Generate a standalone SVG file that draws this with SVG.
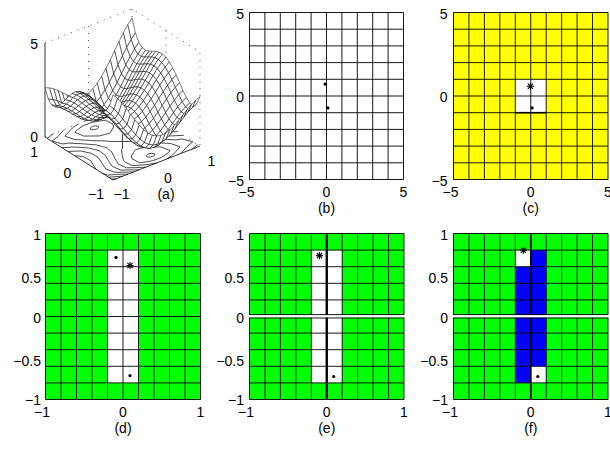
<svg xmlns="http://www.w3.org/2000/svg" width="610" height="449" viewBox="0 0 610 449">
<style>
.t{font-family:"Liberation Sans",Arial,sans-serif;font-size:14px;fill:#000}
.m{text-anchor:middle}
.e{text-anchor:end}
.q path{fill:#fff;stroke:#000;stroke-width:0.5;stroke-linejoin:round}
.c{fill:none;stroke:#000;stroke-width:0.7;stroke-linejoin:round}
.d{fill:none;stroke:#444;stroke-width:0.9;stroke-dasharray:1 6}
.ax{fill:none;stroke:#000;stroke-width:0.8}
.ast{fill:none;stroke:#000;stroke-width:1.1}
</style>
<defs>
<path id="g10" d="M0 0V10M1 0V10M2 0V10M3 0V10M4 0V10M5 0V10M6 0V10M7 0V10M8 0V10M9 0V10M10 0V10M0 0H10M0 1H10M0 2H10M0 3H10M0 4H10M0 5H10M0 6H10M0 7H10M0 8H10M0 9H10M0 10H10" fill="none" stroke="#000" stroke-width="0.9" vector-effect="non-scaling-stroke"/>
<path id="ast" d="M-3.6 0H3.6M0 -3.6V3.6M-2.6 -2.6L2.6 2.6M-2.6 2.6L2.6 -2.6" class="ast"/>
</defs>
<rect width="610" height="449" fill="#fff"/>

<g id="panel-a">
<g id="a-box">
<path class="d" d="M45 43L132 9L200 52V146M88.5 26V120M166 30.5V124.5M132 9V103M45 137L132 103L200 146"/>
<path class="ax" d="M45 43V137L113 180L200 146"/>
</g>
<g id="a-contours">
<path class="c" d="M98.3 126.3L95.7 125.8L92.4 126.5L90.3 127.9L90.6 129.3L93.2 129.7L96.5 129.1L98.6 127.6Z"/>
<path class="c" d="M146.7 156.7L149.3 157.2L152.6 156.5L154.7 155.1L154.4 153.7L151.8 153.3L148.5 153.9L146.4 155.4Z"/>
<path class="c" d="M83.34 125.64L92.17 122.32L103.25 120.43L105.57 120.29L113.06 124.32L113.66 127.01L110.29 132.36L109.58 133.33L104.64 134.57L99.59 135.91L85.79 136.09L83.31 135.94L74.86 132.29L76.68 130.33Z"/>
<path class="c" d="M161.66 157.36L152.83 160.68L141.75 162.57L139.43 162.71L131.94 158.68L131.34 155.99L134.71 150.64L135.42 149.67L140.36 148.43L145.41 147.09L159.21 146.91L161.69 147.06L170.14 150.71L168.32 152.67Z"/>
<path class="c" d="M78.15 124.05L72.6 127.75L67.36 133.34L64.94 136.17L74.26 139.48L77.36 139.66L89.67 140.41L93.13 140.73L106.22 140.91L108.29 141.42L122.5 141.5L122.49 134.55L123.52 133.24L122.73 127.49L121.61 123.13L120.63 121.36L112.87 117.43L99.72 118.19L88.5 120"/>
<path class="c" d="M166.85 158.95L172.4 155.25L177.64 149.66L180.06 146.83L170.74 143.52L167.64 143.34L155.33 142.59L151.87 142.27L138.78 142.09L136.71 141.58L122.5 141.5L122.51 148.45L121.48 149.76L122.27 155.51L123.39 159.87L124.37 161.64L132.13 165.57L145.28 164.81L156.5 163"/>
<path class="c" d="M64.23 129.49L63.08 130.63L58.05 136.35L52.15 141.16L62.78 143.97L68.73 143.1L81.23 143.71L84.09 143.92L96.04 144.88L102.52 146.67L106.84 147.62L112.16 152.5L112.24 152.81L114.96 158.36L118.28 164.02L126.38 167.81L135.77 167.69L145.8 167.18"/>
<path class="c" d="M180.77 153.51L181.92 152.37L186.95 146.65L192.85 141.84L182.22 139.03L176.27 139.9L163.77 139.29L160.91 139.08L148.96 138.12L142.48 136.33L138.16 135.38L132.84 130.5L132.76 130.19L130.04 124.64L126.72 118.98L118.62 115.19L109.23 115.31L99.2 115.82"/>
<path class="c" d="M53.27 133.77L47.18 138.38M191.73 149.23L197.82 144.62"/>
<path class="c" d="M61.93 147.71L72.45 147.15L74.98 147.06L88.21 147.94L91.84 148.82L99.1 150.65L105.29 155.18L107.08 158.45L108.52 160.88L112.28 166.37L120.64 170.06L125.3 169.97L138.93 169.87"/>
<path class="c" d="M183.07 135.29L172.55 135.85L170.02 135.94L156.79 135.06L153.16 134.18L145.9 132.35L139.71 127.82L137.92 124.55L136.48 122.12L132.72 116.63L124.36 112.94L119.7 113.03L106.07 113.13"/>
<path class="c" d="M133.53 171.98L128.56 172.04L114.9 172.3L105.75 168.92L102.17 163.36L98.5 157.84L91.88 153.47L81.44 151.14L80.38 151L67.78 151.4"/>
<path class="c" d="M111.47 111.02L116.44 110.96L130.1 110.7L139.25 114.08L142.83 119.64L146.5 125.16L153.12 129.53L163.56 131.86L164.62 132L177.22 131.6"/>
<path class="c" d="M128.05 174.12L118.03 174.28L107.77 175.09L102.39 173.29M96.14 169.34L94.17 166.49L90.85 160.83L83.52 156.73L74.51 155.66"/>
<path class="c" d="M116.95 108.88L126.97 108.72L137.23 107.91L142.61 109.71M148.86 113.66L150.83 116.51L154.15 122.17L161.48 126.27L170.49 127.34"/>
<path class="c" d="M122.66 176.23L121.16 176.26L108.58 177.2M122.34 106.77L123.84 106.74L136.42 105.8M116.13 178.78L111.57 179.1M128.87 104.22L133.43 103.9"/>
</g>
<g id="a-surface" class="q">
<path d="M131.1 39.6L135.4 32.8L132 17.8L127.7 24.8Z"/>
<path d="M126.7 47.5L131.1 39.6L127.7 24.8L123.3 32.8Z"/>
<path d="M122.4 56.1L126.7 47.5L123.3 32.8L119 41.6Z"/>
<path d="M118 65L122.4 56.1L119 41.6L114.6 50.7Z"/>
<path d="M113.7 73.9L118 65L114.6 50.7L110.3 59.8Z"/>
<path d="M109.3 82.4L113.7 73.9L110.3 59.8L105.9 68.4Z"/>
<path d="M105 90.1L109.3 82.4L105.9 68.4L101.6 76.3Z"/>
<path d="M100.6 96.8L105 90.1L101.6 76.3L97.2 83.2Z"/>
<path d="M96.3 102.2L100.6 96.8L97.2 83.2L92.9 88.8Z"/>
<path d="M91.9 106.2L96.3 102.2L92.9 88.8L88.5 93Z"/>
<path d="M87.6 108.8L91.9 106.2L88.5 93L84.2 95.8Z"/>
<path d="M83.2 110.1L87.6 108.8L84.2 95.8L79.8 97.2Z"/>
<path d="M78.9 110L83.2 110.1L79.8 97.2L75.5 97.3Z"/>
<path d="M74.5 108.9L78.9 110L75.5 97.3L71.1 96.4Z"/>
<path d="M70.2 107.1L74.5 108.9L71.1 96.4L66.8 94.8Z"/>
<path d="M65.8 104.9L70.2 107.1L66.8 94.8L62.4 92.7Z"/>
<path d="M61.5 102.6L65.8 104.9L62.4 92.7L58.1 90.6Z"/>
<path d="M57.1 100.6L61.5 102.6L58.1 90.6L53.7 88.8Z"/>
<path d="M52.8 99.4L57.1 100.6L53.7 88.8L49.4 87.8Z"/>
<path d="M48.4 99.2L52.8 99.4L49.4 87.8L45 87.8Z"/>
<path d="M134.5 48.9L138.8 42.3L135.4 32.8L131.1 39.6Z"/>
<path d="M130.1 56.6L134.5 48.9L131.1 39.6L126.7 47.5Z"/>
<path d="M125.8 65L130.1 56.6L126.7 47.5L122.4 56.1Z"/>
<path d="M121.4 73.8L125.8 65L122.4 56.1L118 65Z"/>
<path d="M117.1 82.5L121.4 73.8L118 65L113.7 73.9Z"/>
<path d="M112.7 90.8L117.1 82.5L113.7 73.9L109.3 82.4Z"/>
<path d="M108.4 98.3L112.7 90.8L109.3 82.4L105 90.1Z"/>
<path d="M104 104.8L108.4 98.3L105 90.1L100.6 96.8Z"/>
<path d="M99.7 110L104 104.8L100.6 96.8L96.3 102.2Z"/>
<path d="M95.3 113.9L99.7 110L96.3 102.2L91.9 106.2Z"/>
<path d="M91 116.3L95.3 113.9L91.9 106.2L87.6 108.8Z"/>
<path d="M86.6 117.4L91 116.3L87.6 108.8L83.2 110.1Z"/>
<path d="M82.3 117.1L86.6 117.4L83.2 110.1L78.9 110Z"/>
<path d="M77.9 115.9L82.3 117.1L78.9 110L74.5 108.9Z"/>
<path d="M73.6 113.9L77.9 115.9L74.5 108.9L70.2 107.1Z"/>
<path d="M69.2 111.4L73.6 113.9L70.2 107.1L65.8 104.9Z"/>
<path d="M64.9 109L69.2 111.4L65.8 104.9L61.5 102.6Z"/>
<path d="M60.5 106.8L64.9 109L61.5 102.6L57.1 100.6Z"/>
<path d="M56.2 105.4L60.5 106.8L57.1 100.6L52.8 99.4Z"/>
<path d="M51.8 105.1L56.2 105.4L52.8 99.4L48.4 99.2Z"/>
<path d="M137.9 54.1L142.2 47.6L138.8 42.3L134.5 48.9Z"/>
<path d="M133.5 61.6L137.9 54.1L134.5 48.9L130.1 56.6Z"/>
<path d="M129.2 69.8L133.5 61.6L130.1 56.6L125.8 65Z"/>
<path d="M124.8 78.4L129.2 69.8L125.8 65L121.4 73.8Z"/>
<path d="M120.5 86.9L124.8 78.4L121.4 73.8L117.1 82.5Z"/>
<path d="M116.1 95L120.5 86.9L117.1 82.5L112.7 90.8Z"/>
<path d="M111.8 102.4L116.1 95L112.7 90.8L108.4 98.3Z"/>
<path d="M107.4 108.7L111.8 102.4L108.4 98.3L104 104.8Z"/>
<path d="M103.1 113.8L107.4 108.7L104 104.8L99.7 110Z"/>
<path d="M98.7 117.4L103.1 113.8L99.7 110L95.3 113.9Z"/>
<path d="M94.4 119.7L98.7 117.4L95.3 113.9L91 116.3Z"/>
<path d="M90 120.5L94.4 119.7L91 116.3L86.6 117.4Z"/>
<path d="M85.7 120.2L90 120.5L86.6 117.4L82.3 117.1Z"/>
<path d="M81.3 118.7L85.7 120.2L82.3 117.1L77.9 115.9Z"/>
<path d="M77 116.5L81.3 118.7L77.9 115.9L73.6 113.9Z"/>
<path d="M72.6 113.9L77 116.5L73.6 113.9L69.2 111.4Z"/>
<path d="M68.3 111.3L72.6 113.9L69.2 111.4L64.9 109Z"/>
<path d="M63.9 109L68.3 111.3L64.9 109L60.5 106.8Z"/>
<path d="M59.6 107.4L63.9 109L60.5 106.8L56.2 105.4Z"/>
<path d="M55.2 106.8L59.6 107.4L56.2 105.4L51.8 105.1Z"/>
<path d="M141.3 56.5L145.6 50.2L142.2 47.6L137.9 54.1Z"/>
<path d="M136.9 63.8L141.3 56.5L137.9 54.1L133.5 61.6Z"/>
<path d="M132.6 71.8L136.9 63.8L133.5 61.6L129.2 69.8Z"/>
<path d="M128.2 80.2L132.6 71.8L129.2 69.8L124.8 78.4Z"/>
<path d="M123.9 88.6L128.2 80.2L124.8 78.4L120.5 86.9Z"/>
<path d="M119.5 96.5L123.9 88.6L120.5 86.9L116.1 95Z"/>
<path d="M115.2 103.7L119.5 96.5L116.1 95L111.8 102.4Z"/>
<path d="M110.8 109.8L115.2 103.7L111.8 102.4L107.4 108.7Z"/>
<path d="M106.5 114.7L110.8 109.8L107.4 108.7L103.1 113.8Z"/>
<path d="M102.1 118.2L106.5 114.7L103.1 113.8L98.7 117.4Z"/>
<path d="M97.8 120.3L102.1 118.2L98.7 117.4L94.4 119.7Z"/>
<path d="M93.4 120.9L97.8 120.3L94.4 119.7L90 120.5Z"/>
<path d="M89.1 120.4L93.4 120.9L90 120.5L85.7 120.2Z"/>
<path d="M84.7 118.7L89.1 120.4L85.7 120.2L81.3 118.7Z"/>
<path d="M80.4 116.4L84.7 118.7L81.3 118.7L77 116.5Z"/>
<path d="M76 113.6L80.4 116.4L77 116.5L72.6 113.9Z"/>
<path d="M71.7 110.7L76 113.6L72.6 113.9L68.3 111.3Z"/>
<path d="M67.3 108.3L71.7 110.7L68.3 111.3L63.9 109Z"/>
<path d="M63 106.5L67.3 108.3L63.9 109L59.6 107.4Z"/>
<path d="M58.6 105.8L63 106.5L59.6 107.4L55.2 106.8Z"/>
<path d="M144.7 57.1L149 51.1L145.6 50.2L141.3 56.5Z"/>
<path d="M140.3 64.3L144.7 57.1L141.3 56.5L136.9 63.8Z"/>
<path d="M136 72.1L140.3 64.3L136.9 63.8L132.6 71.8Z"/>
<path d="M131.6 80.4L136 72.1L132.6 71.8L128.2 80.2Z"/>
<path d="M127.3 88.5L131.6 80.4L128.2 80.2L123.9 88.6Z"/>
<path d="M122.9 96.3L127.3 88.5L123.9 88.6L119.5 96.5Z"/>
<path d="M118.6 103.3L122.9 96.3L119.5 96.5L115.2 103.7Z"/>
<path d="M114.2 109.2L118.6 103.3L115.2 103.7L110.8 109.8Z"/>
<path d="M109.9 113.9L114.2 109.2L110.8 109.8L106.5 114.7Z"/>
<path d="M105.5 117.3L109.9 113.9L106.5 114.7L102.1 118.2Z"/>
<path d="M101.2 119.1L105.5 117.3L102.1 118.2L97.8 120.3Z"/>
<path d="M96.8 119.6L101.2 119.1L97.8 120.3L93.4 120.9Z"/>
<path d="M92.5 118.9L96.8 119.6L93.4 120.9L89.1 120.4Z"/>
<path d="M88.1 117.1L92.5 118.9L89.1 120.4L84.7 118.7Z"/>
<path d="M83.8 114.5L88.1 117.1L84.7 118.7L80.4 116.4Z"/>
<path d="M79.4 111.6L83.8 114.5L80.4 116.4L76 113.6Z"/>
<path d="M75.1 108.5L79.4 111.6L76 113.6L71.7 110.7Z"/>
<path d="M70.7 105.9L75.1 108.5L71.7 110.7L67.3 108.3Z"/>
<path d="M66.4 103.9L70.7 105.9L67.3 108.3L63 106.5Z"/>
<path d="M62 103.1L66.4 103.9L63 106.5L58.6 105.8Z"/>
<path d="M148.1 57.1L152.4 51.2L149 51.1L144.7 57.1Z"/>
<path d="M143.7 64.1L148.1 57.1L144.7 57.1L140.3 64.3Z"/>
<path d="M139.4 71.7L143.7 64.1L140.3 64.3L136 72.1Z"/>
<path d="M135 79.8L139.4 71.7L136 72.1L131.6 80.4Z"/>
<path d="M130.7 87.8L135 79.8L131.6 80.4L127.3 88.5Z"/>
<path d="M126.3 95.3L130.7 87.8L127.3 88.5L122.9 96.3Z"/>
<path d="M122 102.1L126.3 95.3L122.9 96.3L118.6 103.3Z"/>
<path d="M117.6 107.9L122 102.1L118.6 103.3L114.2 109.2Z"/>
<path d="M113.3 112.4L117.6 107.9L114.2 109.2L109.9 113.9Z"/>
<path d="M108.9 115.6L113.3 112.4L109.9 113.9L105.5 117.3Z"/>
<path d="M104.6 117.3L108.9 115.6L105.5 117.3L101.2 119.1Z"/>
<path d="M100.2 117.6L104.6 117.3L101.2 119.1L96.8 119.6Z"/>
<path d="M95.9 116.7L100.2 117.6L96.8 119.6L92.5 118.9Z"/>
<path d="M91.5 114.7L95.9 116.7L92.5 118.9L88.1 117.1Z"/>
<path d="M87.2 112L91.5 114.7L88.1 117.1L83.8 114.5Z"/>
<path d="M82.8 108.8L87.2 112L83.8 114.5L79.4 111.6Z"/>
<path d="M78.5 105.6L82.8 108.8L79.4 111.6L75.1 108.5Z"/>
<path d="M74.1 102.8L78.5 105.6L75.1 108.5L70.7 105.9Z"/>
<path d="M69.8 100.7L74.1 102.8L70.7 105.9L66.4 103.9Z"/>
<path d="M65.4 99.6L69.8 100.7L66.4 103.9L62 103.1Z"/>
<path d="M151.5 57.1L155.8 51.4L152.4 51.2L148.1 57.1Z"/>
<path d="M147.1 63.9L151.5 57.1L148.1 57.1L143.7 64.1Z"/>
<path d="M142.8 71.4L147.1 63.9L143.7 64.1L139.4 71.7Z"/>
<path d="M138.4 79.2L142.8 71.4L139.4 71.7L135 79.8Z"/>
<path d="M134.1 87L138.4 79.2L135 79.8L130.7 87.8Z"/>
<path d="M129.7 94.4L134.1 87L130.7 87.8L126.3 95.3Z"/>
<path d="M125.4 101.1L129.7 94.4L126.3 95.3L122 102.1Z"/>
<path d="M121 106.7L125.4 101.1L122 102.1L117.6 107.9Z"/>
<path d="M116.7 111L121 106.7L117.6 107.9L113.3 112.4Z"/>
<path d="M112.3 114L116.7 111L113.3 112.4L108.9 115.6Z"/>
<path d="M108 115.5L112.3 114L108.9 115.6L104.6 117.3Z"/>
<path d="M103.6 115.6L108 115.5L104.6 117.3L100.2 117.6Z"/>
<path d="M99.3 114.5L103.6 115.6L100.2 117.6L95.9 116.7Z"/>
<path d="M94.9 112.3L99.3 114.5L95.9 116.7L91.5 114.7Z"/>
<path d="M90.6 109.4L94.9 112.3L91.5 114.7L87.2 112Z"/>
<path d="M86.2 106.1L90.6 109.4L87.2 112L82.8 108.8Z"/>
<path d="M81.9 102.7L86.2 106.1L82.8 108.8L78.5 105.6Z"/>
<path d="M77.5 99.7L81.9 102.7L78.5 105.6L74.1 102.8Z"/>
<path d="M73.2 97.4L77.5 99.7L74.1 102.8L69.8 100.7Z"/>
<path d="M68.8 96.2L73.2 97.4L69.8 100.7L65.4 99.6Z"/>
<path d="M154.9 57.7L159.2 52.2L155.8 51.4L151.5 57.1Z"/>
<path d="M150.5 64.3L154.9 57.7L151.5 57.1L147.1 63.9Z"/>
<path d="M146.2 71.6L150.5 64.3L147.1 63.9L142.8 71.4Z"/>
<path d="M141.8 79.3L146.2 71.6L142.8 71.4L138.4 79.2Z"/>
<path d="M137.5 86.9L141.8 79.3L138.4 79.2L134.1 87Z"/>
<path d="M133.1 94.1L137.5 86.9L134.1 87L129.7 94.4Z"/>
<path d="M128.8 100.6L133.1 94.1L129.7 94.4L125.4 101.1Z"/>
<path d="M124.4 106L128.8 100.6L125.4 101.1L121 106.7Z"/>
<path d="M120.1 110.2L124.4 106L121 106.7L116.7 111Z"/>
<path d="M115.7 113L120.1 110.2L116.7 111L112.3 114Z"/>
<path d="M111.4 114.3L115.7 113L112.3 114L108 115.5Z"/>
<path d="M107 114.3L111.4 114.3L108 115.5L103.6 115.6Z"/>
<path d="M102.7 113L107 114.3L103.6 115.6L99.3 114.5Z"/>
<path d="M98.3 110.6L102.7 113L99.3 114.5L94.9 112.3Z"/>
<path d="M94 107.5L98.3 110.6L94.9 112.3L90.6 109.4Z"/>
<path d="M89.6 104L94 107.5L90.6 109.4L86.2 106.1Z"/>
<path d="M85.3 100.5L89.6 104L86.2 106.1L81.9 102.7Z"/>
<path d="M80.9 97.3L85.3 100.5L81.9 102.7L77.5 99.7Z"/>
<path d="M76.6 94.8L80.9 97.3L77.5 99.7L73.2 97.4Z"/>
<path d="M72.2 93.4L76.6 94.8L73.2 97.4L68.8 96.2Z"/>
<path d="M158.3 59.4L162.6 54.1L159.2 52.2L154.9 57.7Z"/>
<path d="M153.9 65.9L158.3 59.4L154.9 57.7L150.5 64.3Z"/>
<path d="M149.6 73L153.9 65.9L150.5 64.3L146.2 71.6Z"/>
<path d="M145.2 80.5L149.6 73L146.2 71.6L141.8 79.3Z"/>
<path d="M140.9 87.9L145.2 80.5L141.8 79.3L137.5 86.9Z"/>
<path d="M136.5 95L140.9 87.9L137.5 86.9L133.1 94.1Z"/>
<path d="M132.2 101.3L136.5 95L133.1 94.1L128.8 100.6Z"/>
<path d="M127.8 106.5L132.2 101.3L128.8 100.6L124.4 106Z"/>
<path d="M123.5 110.5L127.8 106.5L124.4 106L120.1 110.2Z"/>
<path d="M119.1 113.1L123.5 110.5L120.1 110.2L115.7 113Z"/>
<path d="M114.8 114.2L119.1 113.1L115.7 113L111.4 114.3Z"/>
<path d="M110.4 114L114.8 114.2L111.4 114.3L107 114.3Z"/>
<path d="M106.1 112.5L110.4 114L107 114.3L102.7 113Z"/>
<path d="M101.7 110L106.1 112.5L102.7 113L98.3 110.6Z"/>
<path d="M97.4 106.7L101.7 110L98.3 110.6L94 107.5Z"/>
<path d="M93 103L97.4 106.7L94 107.5L89.6 104Z"/>
<path d="M88.7 99.3L93 103L89.6 104L85.3 100.5Z"/>
<path d="M84.3 95.9L88.7 99.3L85.3 100.5L80.9 97.3Z"/>
<path d="M80 93.3L84.3 95.9L80.9 97.3L76.6 94.8Z"/>
<path d="M75.6 91.7L80 93.3L76.6 94.8L72.2 93.4Z"/>
<path d="M161.7 62.5L166 57.3L162.6 54.1L158.3 59.4Z"/>
<path d="M157.3 68.7L161.7 62.5L158.3 59.4L153.9 65.9Z"/>
<path d="M153 75.7L157.3 68.7L153.9 65.9L149.6 73Z"/>
<path d="M148.6 83L153 75.7L149.6 73L145.2 80.5Z"/>
<path d="M144.3 90.3L148.6 83L145.2 80.5L140.9 87.9Z"/>
<path d="M139.9 97.1L144.3 90.3L140.9 87.9L136.5 95Z"/>
<path d="M135.6 103.2L139.9 97.1L136.5 95L132.2 101.3Z"/>
<path d="M131.2 108.3L135.6 103.2L132.2 101.3L127.8 106.5Z"/>
<path d="M126.9 112.1L131.2 108.3L127.8 106.5L123.5 110.5Z"/>
<path d="M122.5 114.5L126.9 112.1L123.5 110.5L119.1 113.1Z"/>
<path d="M118.2 115.5L122.5 114.5L119.1 113.1L114.8 114.2Z"/>
<path d="M113.8 115.1L118.2 115.5L114.8 114.2L110.4 114Z"/>
<path d="M109.5 113.4L113.8 115.1L110.4 114L106.1 112.5Z"/>
<path d="M105.1 110.7L109.5 113.4L106.1 112.5L101.7 110Z"/>
<path d="M100.8 107.3L105.1 110.7L101.7 110L97.4 106.7Z"/>
<path d="M96.4 103.4L100.8 107.3L97.4 106.7L93 103Z"/>
<path d="M92.1 99.5L96.4 103.4L93 103L88.7 99.3Z"/>
<path d="M87.7 95.9L92.1 99.5L88.7 99.3L84.3 95.9Z"/>
<path d="M83.4 93.1L87.7 95.9L84.3 95.9L80 93.3Z"/>
<path d="M79 91.3L83.4 93.1L80 93.3L75.6 91.7Z"/>
<path d="M165.1 67L169.4 62L166 57.3L161.7 62.5Z"/>
<path d="M160.7 73L165.1 67L161.7 62.5L157.3 68.7Z"/>
<path d="M156.4 79.8L160.7 73L157.3 68.7L153 75.7Z"/>
<path d="M152 86.9L156.4 79.8L153 75.7L148.6 83Z"/>
<path d="M147.7 94L152 86.9L148.6 83L144.3 90.3Z"/>
<path d="M143.3 100.7L147.7 94L144.3 90.3L139.9 97.1Z"/>
<path d="M139 106.6L143.3 100.7L139.9 97.1L135.6 103.2Z"/>
<path d="M134.6 111.5L139 106.6L135.6 103.2L131.2 108.3Z"/>
<path d="M130.3 115.1L134.6 111.5L131.2 108.3L126.9 112.1Z"/>
<path d="M125.9 117.4L130.3 115.1L126.9 112.1L122.5 114.5Z"/>
<path d="M121.6 118.2L125.9 117.4L122.5 114.5L118.2 115.5Z"/>
<path d="M117.2 117.6L121.6 118.2L118.2 115.5L113.8 115.1Z"/>
<path d="M112.9 115.8L117.2 117.6L113.8 115.1L109.5 113.4Z"/>
<path d="M108.5 112.9L112.9 115.8L109.5 113.4L105.1 110.7Z"/>
<path d="M104.2 109.2L108.5 112.9L105.1 110.7L100.8 107.3Z"/>
<path d="M99.8 105.2L104.2 109.2L100.8 107.3L96.4 103.4Z"/>
<path d="M95.5 101.1L99.8 105.2L96.4 103.4L92.1 99.5Z"/>
<path d="M91.1 97.4L95.5 101.1L92.1 99.5L87.7 95.9Z"/>
<path d="M86.8 94.3L91.1 97.4L87.7 95.9L83.4 93.1Z"/>
<path d="M82.4 92.4L86.8 94.3L83.4 93.1L79 91.3Z"/>
<path d="M168.5 72.8L172.8 68L169.4 62L165.1 67Z"/>
<path d="M164.1 78.7L168.5 72.8L165.1 67L160.7 73Z"/>
<path d="M159.8 85.3L164.1 78.7L160.7 73L156.4 79.8Z"/>
<path d="M155.4 92.2L159.8 85.3L156.4 79.8L152 86.9Z"/>
<path d="M151.1 99.1L155.4 92.2L152 86.9L147.7 94Z"/>
<path d="M146.7 105.6L151.1 99.1L147.7 94L143.3 100.7Z"/>
<path d="M142.4 111.4L146.7 105.6L143.3 100.7L139 106.6Z"/>
<path d="M138 116.1L142.4 111.4L139 106.6L134.6 111.5Z"/>
<path d="M133.7 119.5L138 116.1L134.6 111.5L130.3 115.1Z"/>
<path d="M129.3 121.6L133.7 119.5L130.3 115.1L125.9 117.4Z"/>
<path d="M125 122.2L129.3 121.6L125.9 117.4L121.6 118.2Z"/>
<path d="M120.6 121.4L125 122.2L121.6 118.2L117.2 117.6Z"/>
<path d="M116.3 119.4L120.6 121.4L117.2 117.6L112.9 115.8Z"/>
<path d="M111.9 116.3L116.3 119.4L112.9 115.8L108.5 112.9Z"/>
<path d="M107.6 112.5L111.9 116.3L108.5 112.9L104.2 109.2Z"/>
<path d="M103.2 108.3L107.6 112.5L104.2 109.2L99.8 105.2Z"/>
<path d="M98.9 104L103.2 108.3L99.8 105.2L95.5 101.1Z"/>
<path d="M94.5 100.1L98.9 104L95.5 101.1L91.1 97.4Z"/>
<path d="M90.2 96.9L94.5 100.1L91.1 97.4L86.8 94.3Z"/>
<path d="M85.8 94.8L90.2 96.9L86.8 94.3L82.4 92.4Z"/>
<path d="M171.9 79.7L176.2 75.1L172.8 68L168.5 72.8Z"/>
<path d="M167.5 85.4L171.9 79.7L168.5 72.8L164.1 78.7Z"/>
<path d="M163.2 91.8L167.5 85.4L164.1 78.7L159.8 85.3Z"/>
<path d="M158.8 98.6L163.2 91.8L159.8 85.3L155.4 92.2Z"/>
<path d="M154.5 105.3L158.8 98.6L155.4 92.2L151.1 99.1Z"/>
<path d="M150.1 111.6L154.5 105.3L151.1 99.1L146.7 105.6Z"/>
<path d="M145.8 117.2L150.1 111.6L146.7 105.6L142.4 111.4Z"/>
<path d="M141.4 121.7L145.8 117.2L142.4 111.4L138 116.1Z"/>
<path d="M137.1 125L141.4 121.7L138 116.1L133.7 119.5Z"/>
<path d="M132.7 126.9L137.1 125L133.7 119.5L129.3 121.6Z"/>
<path d="M128.4 127.3L132.7 126.9L129.3 121.6L125 122.2Z"/>
<path d="M124 126.4L128.4 127.3L125 122.2L120.6 121.4Z"/>
<path d="M119.7 124.2L124 126.4L120.6 121.4L116.3 119.4Z"/>
<path d="M115.3 120.9L119.7 124.2L116.3 119.4L111.9 116.3Z"/>
<path d="M111 116.9L115.3 120.9L111.9 116.3L107.6 112.5Z"/>
<path d="M106.6 112.5L111 116.9L107.6 112.5L103.2 108.3Z"/>
<path d="M102.3 108.1L106.6 112.5L103.2 108.3L98.9 104Z"/>
<path d="M97.9 104L102.3 108.1L98.9 104L94.5 100.1Z"/>
<path d="M93.6 100.6L97.9 104L94.5 100.1L90.2 96.9Z"/>
<path d="M89.2 98.3L93.6 100.6L90.2 96.9L85.8 94.8Z"/>
<path d="M175.3 87.3L179.6 82.8L176.2 75.1L171.9 79.7Z"/>
<path d="M170.9 92.8L175.3 87.3L171.9 79.7L167.5 85.4Z"/>
<path d="M166.6 99L170.9 92.8L167.5 85.4L163.2 91.8Z"/>
<path d="M162.2 105.6L166.6 99L163.2 91.8L158.8 98.6Z"/>
<path d="M157.9 112.2L162.2 105.6L158.8 98.6L154.5 105.3Z"/>
<path d="M153.5 118.3L157.9 112.2L154.5 105.3L150.1 111.6Z"/>
<path d="M149.2 123.7L153.5 118.3L150.1 111.6L145.8 117.2Z"/>
<path d="M144.8 128L149.2 123.7L145.8 117.2L141.4 121.7Z"/>
<path d="M140.5 131.1L144.8 128L141.4 121.7L137.1 125Z"/>
<path d="M136.1 132.8L140.5 131.1L137.1 125L132.7 126.9Z"/>
<path d="M131.8 133L136.1 132.8L132.7 126.9L128.4 127.3Z"/>
<path d="M127.4 131.9L131.8 133L128.4 127.3L124 126.4Z"/>
<path d="M123.1 129.5L127.4 131.9L124 126.4L119.7 124.2Z"/>
<path d="M118.7 126.1L123.1 129.5L119.7 124.2L115.3 120.9Z"/>
<path d="M114.4 122L118.7 126.1L115.3 120.9L111 116.9Z"/>
<path d="M110 117.4L114.4 122L111 116.9L106.6 112.5Z"/>
<path d="M105.7 112.7L110 117.4L106.6 112.5L102.3 108.1Z"/>
<path d="M101.3 108.5L105.7 112.7L102.3 108.1L97.9 104Z"/>
<path d="M97 104.9L101.3 108.5L97.9 104L93.6 100.6Z"/>
<path d="M92.6 102.4L97 104.9L93.6 100.6L89.2 98.3Z"/>
<path d="M178.7 94.8L183 90.6L179.6 82.8L175.3 87.3Z"/>
<path d="M174.3 100.2L178.7 94.8L175.3 87.3L170.9 92.8Z"/>
<path d="M170 106.2L174.3 100.2L170.9 92.8L166.6 99Z"/>
<path d="M165.6 112.7L170 106.2L166.6 99L162.2 105.6Z"/>
<path d="M161.3 119L165.6 112.7L162.2 105.6L157.9 112.2Z"/>
<path d="M156.9 125L161.3 119L157.9 112.2L153.5 118.3Z"/>
<path d="M152.6 130.2L156.9 125L153.5 118.3L149.2 123.7Z"/>
<path d="M148.2 134.3L152.6 130.2L149.2 123.7L144.8 128Z"/>
<path d="M143.9 137.2L148.2 134.3L144.8 128L140.5 131.1Z"/>
<path d="M139.5 138.8L143.9 137.2L140.5 131.1L136.1 132.8Z"/>
<path d="M135.2 138.8L139.5 138.8L136.1 132.8L131.8 133Z"/>
<path d="M130.8 137.5L135.2 138.8L131.8 133L127.4 131.9Z"/>
<path d="M126.5 135L130.8 137.5L127.4 131.9L123.1 129.5Z"/>
<path d="M122.1 131.4L126.5 135L123.1 129.5L118.7 126.1Z"/>
<path d="M117.8 127L122.1 131.4L118.7 126.1L114.4 122Z"/>
<path d="M113.4 122.3L117.8 127L114.4 122L110 117.4Z"/>
<path d="M109.1 117.4L113.4 122.3L110 117.4L105.7 112.7Z"/>
<path d="M104.7 113L109.1 117.4L105.7 112.7L101.3 108.5Z"/>
<path d="M100.4 109.2L104.7 113L101.3 108.5L97 104.9Z"/>
<path d="M96 106.6L100.4 109.2L97 104.9L92.6 102.4Z"/>
<path d="M182.1 101.7L186.4 97.6L183 90.6L178.7 94.8Z"/>
<path d="M177.7 106.9L182.1 101.7L178.7 94.8L174.3 100.2Z"/>
<path d="M173.4 112.7L177.7 106.9L174.3 100.2L170 106.2Z"/>
<path d="M169 119L173.4 112.7L170 106.2L165.6 112.7Z"/>
<path d="M164.7 125.2L169 119L165.6 112.7L161.3 119Z"/>
<path d="M160.3 130.9L164.7 125.2L161.3 119L156.9 125Z"/>
<path d="M156 136L160.3 130.9L156.9 125L152.6 130.2Z"/>
<path d="M151.6 139.9L156 136L152.6 130.2L148.2 134.3Z"/>
<path d="M147.3 142.7L151.6 139.9L148.2 134.3L143.9 137.2Z"/>
<path d="M142.9 144L147.3 142.7L143.9 137.2L139.5 138.8Z"/>
<path d="M138.6 143.9L142.9 144L139.5 138.8L135.2 138.8Z"/>
<path d="M134.2 142.4L138.6 143.9L135.2 138.8L130.8 137.5Z"/>
<path d="M129.9 139.7L134.2 142.4L130.8 137.5L126.5 135Z"/>
<path d="M125.5 135.9L129.9 139.7L126.5 135L122.1 131.4Z"/>
<path d="M121.2 131.4L125.5 135.9L122.1 131.4L117.8 127Z"/>
<path d="M116.8 126.4L121.2 131.4L117.8 127L113.4 122.3Z"/>
<path d="M112.5 121.4L116.8 126.4L113.4 122.3L109.1 117.4Z"/>
<path d="M108.1 116.8L112.5 121.4L109.1 117.4L104.7 113Z"/>
<path d="M103.8 112.9L108.1 116.8L104.7 113L100.4 109.2Z"/>
<path d="M99.4 110L103.8 112.9L100.4 109.2L96 106.6Z"/>
<path d="M185.5 106.9L189.8 102.9L186.4 97.6L182.1 101.7Z"/>
<path d="M181.1 111.9L185.5 106.9L182.1 101.7L177.7 106.9Z"/>
<path d="M176.8 117.6L181.1 111.9L177.7 106.9L173.4 112.7Z"/>
<path d="M172.4 123.6L176.8 117.6L173.4 112.7L169 119Z"/>
<path d="M168.1 129.6L172.4 123.6L169 119L164.7 125.2Z"/>
<path d="M163.7 135.2L168.1 129.6L164.7 125.2L160.3 130.9Z"/>
<path d="M159.4 140.1L163.7 135.2L160.3 130.9L156 136Z"/>
<path d="M155 143.8L159.4 140.1L156 136L151.6 139.9Z"/>
<path d="M150.7 146.4L155 143.8L151.6 139.9L147.3 142.7Z"/>
<path d="M146.3 147.5L150.7 146.4L147.3 142.7L142.9 144Z"/>
<path d="M142 147.3L146.3 147.5L142.9 144L138.6 143.9Z"/>
<path d="M137.6 145.6L142 147.3L138.6 143.9L134.2 142.4Z"/>
<path d="M133.3 142.7L137.6 145.6L134.2 142.4L129.9 139.7Z"/>
<path d="M128.9 138.7L133.3 142.7L129.9 139.7L125.5 135.9Z"/>
<path d="M124.6 134L128.9 138.7L125.5 135.9L121.2 131.4Z"/>
<path d="M120.2 128.9L124.6 134L121.2 131.4L116.8 126.4Z"/>
<path d="M115.9 123.7L120.2 128.9L116.8 126.4L112.5 121.4Z"/>
<path d="M111.5 118.9L115.9 123.7L112.5 121.4L108.1 116.8Z"/>
<path d="M107.2 114.8L111.5 118.9L108.1 116.8L103.8 112.9Z"/>
<path d="M102.8 111.7L107.2 114.8L103.8 112.9L99.4 110Z"/>
<path d="M188.9 109.2L193.2 105.5L189.8 102.9L185.5 106.9Z"/>
<path d="M184.5 114L188.9 109.2L185.5 106.9L181.1 111.9Z"/>
<path d="M180.2 119.6L184.5 114L181.1 111.9L176.8 117.6Z"/>
<path d="M175.8 125.4L180.2 119.6L176.8 117.6L172.4 123.6Z"/>
<path d="M171.5 131.3L175.8 125.4L172.4 123.6L168.1 129.6Z"/>
<path d="M167.1 136.7L171.5 131.3L168.1 129.6L163.7 135.2Z"/>
<path d="M162.8 141.3L167.1 136.7L163.7 135.2L159.4 140.1Z"/>
<path d="M158.4 145L162.8 141.3L159.4 140.1L155 143.8Z"/>
<path d="M154.1 147.3L158.4 145L155 143.8L150.7 146.4Z"/>
<path d="M149.7 148.3L154.1 147.3L150.7 146.4L146.3 147.5Z"/>
<path d="M145.4 147.8L149.7 148.3L146.3 147.5L142 147.3Z"/>
<path d="M141 146L145.4 147.8L142 147.3L137.6 145.6Z"/>
<path d="M136.7 142.9L141 146L137.6 145.6L133.3 142.7Z"/>
<path d="M132.3 138.8L136.7 142.9L133.3 142.7L128.9 138.7Z"/>
<path d="M128 133.9L132.3 138.8L128.9 138.7L124.6 134Z"/>
<path d="M123.6 128.6L128 133.9L124.6 134L120.2 128.9Z"/>
<path d="M119.3 123.2L123.6 128.6L120.2 128.9L115.9 123.7Z"/>
<path d="M114.9 118.2L119.3 123.2L115.9 123.7L111.5 118.9Z"/>
<path d="M110.6 113.9L114.9 118.2L111.5 118.9L107.2 114.8Z"/>
<path d="M106.2 110.7L110.6 113.9L107.2 114.8L102.8 111.7Z"/>
<path d="M192.3 107.5L196.6 103.9L193.2 105.5L188.9 109.2Z"/>
<path d="M187.9 112.1L192.3 107.5L188.9 109.2L184.5 114Z"/>
<path d="M183.6 117.5L187.9 112.1L184.5 114L180.2 119.6Z"/>
<path d="M179.2 123.2L183.6 117.5L180.2 119.6L175.8 125.4Z"/>
<path d="M174.9 128.8L179.2 123.2L175.8 125.4L171.5 131.3Z"/>
<path d="M170.5 134L174.9 128.8L171.5 131.3L167.1 136.7Z"/>
<path d="M166.2 138.5L170.5 134L167.1 136.7L162.8 141.3Z"/>
<path d="M161.8 142L166.2 138.5L162.8 141.3L158.4 145Z"/>
<path d="M157.5 144.1L161.8 142L158.4 145L154.1 147.3Z"/>
<path d="M153.1 144.9L157.5 144.1L154.1 147.3L149.7 148.3Z"/>
<path d="M148.8 144.3L153.1 144.9L149.7 148.3L145.4 147.8Z"/>
<path d="M144.4 142.3L148.8 144.3L145.4 147.8L141 146Z"/>
<path d="M140.1 139L144.4 142.3L141 146L136.7 142.9Z"/>
<path d="M135.7 134.7L140.1 139L136.7 142.9L132.3 138.8Z"/>
<path d="M131.4 129.6L135.7 134.7L132.3 138.8L128 133.9Z"/>
<path d="M127 124.1L131.4 129.6L128 133.9L123.6 128.6Z"/>
<path d="M122.7 118.6L127 124.1L123.6 128.6L119.3 123.2Z"/>
<path d="M118.3 113.4L122.7 118.6L119.3 123.2L114.9 118.2Z"/>
<path d="M114 108.9L118.3 113.4L114.9 118.2L110.6 113.9Z"/>
<path d="M109.6 105.5L114 108.9L110.6 113.9L106.2 110.7Z"/>
<path d="M195.7 100.2L200 96.8L196.6 103.9L192.3 107.5Z"/>
<path d="M191.3 104.6L195.7 100.2L192.3 107.5L187.9 112.1Z"/>
<path d="M187 109.8L191.3 104.6L187.9 112.1L183.6 117.5Z"/>
<path d="M182.6 115.3L187 109.8L183.6 117.5L179.2 123.2Z"/>
<path d="M178.3 120.8L182.6 115.3L179.2 123.2L174.9 128.8Z"/>
<path d="M173.9 125.8L178.3 120.8L174.9 128.8L170.5 134Z"/>
<path d="M169.6 130.1L173.9 125.8L170.5 134L166.2 138.5Z"/>
<path d="M165.2 133.4L169.6 130.1L166.2 138.5L161.8 142Z"/>
<path d="M160.9 135.4L165.2 133.4L161.8 142L157.5 144.1Z"/>
<path d="M156.5 136L160.9 135.4L157.5 144.1L153.1 144.9Z"/>
<path d="M152.2 135.2L156.5 136L153.1 144.9L148.8 144.3Z"/>
<path d="M147.8 133L152.2 135.2L148.8 144.3L144.4 142.3Z"/>
<path d="M143.5 129.5L147.8 133L144.4 142.3L140.1 139Z"/>
<path d="M139.1 125L143.5 129.5L140.1 139L135.7 134.7Z"/>
<path d="M134.8 119.8L139.1 125L135.7 134.7L131.4 129.6Z"/>
<path d="M130.4 114.1L134.8 119.8L131.4 129.6L127 124.1Z"/>
<path d="M126.1 108.4L130.4 114.1L127 124.1L122.7 118.6Z"/>
<path d="M121.7 103L126.1 108.4L122.7 118.6L118.3 113.4Z"/>
<path d="M117.4 98.4L121.7 103L118.3 113.4L114 108.9Z"/>
<path d="M113 94.8L117.4 98.4L114 108.9L109.6 105.5Z"/>
</g>
<g id="a-labels" class="t">
<text class="e" x="38" y="48.5">5</text>
<text class="e" x="38" y="142">0</text>
<text class="e" x="38" y="157">1</text>
<text class="m" x="67.5" y="178">0</text>
<text class="m" x="96" y="198.5">−1</text>
<text class="m" x="121.5" y="198.5">−1</text>
<text class="m" x="168" y="183">0</text>
<text class="m" x="166" y="199">(a)</text>
<text class="m" x="211.5" y="166">1</text>
</g>
</g>

<g id="panel-b">
<use href="#g10" transform="translate(249.5 12.5) scale(15.4 16.7)"/>
<circle cx="325.1" cy="84.1" r="1.6"/>
<circle cx="327.9" cy="107.9" r="1.6"/>
<g class="t">
<text class="e" x="244" y="19">5</text>
<text class="e" x="244" y="101.5">0</text>
<text class="e" x="244" y="185.5">−5</text>
<text class="m" x="246.5" y="197">−5</text>
<text class="m" x="326.5" y="197">0</text>
<text class="m" x="403.5" y="197">5</text>
<text class="m" x="326.5" y="213">(b)</text>
</g>
</g>

<g id="panel-c">
<rect x="453.5" y="12.5" width="154.5" height="167" fill="#ff0"/>
<rect x="515.3" y="79.3" width="30.9" height="33.4" fill="#fff"/>
<use href="#g10" transform="translate(453.5 12.5) scale(15.45 16.7)"/>
<path d="M515.3 112.7H546.2" stroke="#000" stroke-width="1.6"/>
<use href="#ast" x="530.4" y="86.2"/>
<circle cx="532.1" cy="107.9" r="1.6"/>
<g class="t">
<text class="e" x="447.5" y="19">5</text>
<text class="e" x="447.5" y="101.5">0</text>
<text class="e" x="447.5" y="185.5">−5</text>
<text class="m" x="450.5" y="197">−5</text>
<text class="m" x="530.75" y="197">0</text>
<text class="m" x="608" y="197">5</text>
<text class="m" x="530.75" y="213">(c)</text>
</g>
</g>

<g id="panel-d">
<rect x="45.5" y="233.5" width="155" height="166" fill="#0f0"/>
<rect x="107.5" y="250.1" width="31" height="132.8" fill="#fff"/>
<use href="#g10" transform="translate(45.5 233.5) scale(15.5 16.6)"/>
<circle cx="116" cy="257.4" r="1.6"/>
<use href="#ast" x="130" y="265.5"/>
<circle cx="130" cy="375.6" r="1.6"/>
<g class="t">
<text class="e" x="41" y="240">1</text>
<text class="e" x="41" y="283">0.5</text>
<text class="e" x="41" y="322.5">0</text>
<text class="e" x="41" y="365.5">−0.5</text>
<text class="e" x="41" y="404.5">−1</text>
<text class="m" x="42" y="417">−1</text>
<text class="m" x="123" y="417">0</text>
<text class="m" x="200.5" y="417">1</text>
<text class="m" x="123" y="432.5">(d)</text>
</g>
</g>

<g id="panel-e">
<rect x="249.5" y="233.5" width="154.5" height="166" fill="#0f0"/>
<rect x="311.3" y="250.1" width="30.9" height="132.8" fill="#fff"/>
<use href="#g10" transform="translate(249.5 233.5) scale(15.45 16.6)"/>
<path d="M326.75 233.5V399.5" stroke="#000" stroke-width="2.4"/>
<rect x="248" y="315" width="157.5" height="2.6" fill="#fff"/>
<path d="M249.5 314.6H404M249.5 318H404" stroke="#000" stroke-width="0.9"/>
<use href="#ast" x="319.5" y="255.6"/>
<circle cx="333.7" cy="376.5" r="1.6"/>
<g class="t">
<text class="e" x="244" y="240">1</text>
<text class="e" x="244" y="283">0.5</text>
<text class="e" x="244" y="322.5">0</text>
<text class="e" x="244" y="365.5">−0.5</text>
<text class="e" x="244" y="404.5">−1</text>
<text class="m" x="246" y="417">−1</text>
<text class="m" x="326.75" y="417">0</text>
<text class="m" x="404" y="417">1</text>
<text class="m" x="326.75" y="432.5">(e)</text>
</g>
</g>

<g id="panel-f">
<rect x="453.5" y="233.5" width="154.5" height="166" fill="#0f0"/>
<rect x="515.3" y="250.1" width="30.9" height="132.8" fill="#00f"/>
<rect x="515.3" y="250.1" width="15.45" height="16.6" fill="#fff"/>
<rect x="530.75" y="366.3" width="15.45" height="16.6" fill="#fff"/>
<use href="#g10" transform="translate(453.5 233.5) scale(15.45 16.6)"/>
<path d="M530.75 233.5V399.5" stroke="#000" stroke-width="1.6"/>
<rect x="452" y="315" width="158" height="2.6" fill="#fff"/>
<path d="M453.5 314.6H608M453.5 318H608" stroke="#000" stroke-width="0.9"/>
<use href="#ast" x="523.5" y="250.2"/>
<circle cx="537.8" cy="376.5" r="1.6"/>
<g class="t">
<text class="e" x="448" y="240">1</text>
<text class="e" x="448" y="283">0.5</text>
<text class="e" x="448" y="322.5">0</text>
<text class="e" x="448" y="365.5">−0.5</text>
<text class="e" x="448" y="404.5">−1</text>
<text class="m" x="450" y="417">−1</text>
<text class="m" x="530.75" y="417">0</text>
<text class="m" x="608" y="417">1</text>
<text class="m" x="530.75" y="432.5">(f)</text>
</g>
</g>
</svg>
